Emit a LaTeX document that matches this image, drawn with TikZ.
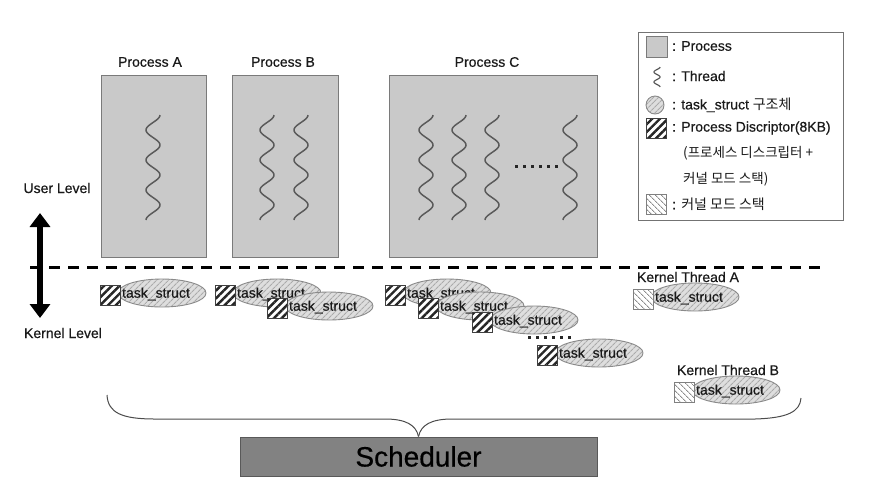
\documentclass[tikz,border=0pt]{standalone}
\usepackage{fontspec}
\setmainfont{Liberation Sans}[FakeBold=0.5]
\newfontfamily\krfont{Noto Sans CJK KR}
\usetikzlibrary{shapes.geometric,patterns.meta,arrows.meta}

\definecolor{procfill}{HTML}{C9C9C9}
\definecolor{procline}{HTML}{7A7A7A}
\definecolor{threadc}{HTML}{5A5A5A}
\definecolor{ellfill}{HTML}{DEDEDE}
\definecolor{ellhatch}{HTML}{ABABAB}
\definecolor{ellline}{HTML}{8A8A8A}
\definecolor{schedfill}{HTML}{828282}
\definecolor{txt}{HTML}{1A1A1A}

\tikzset{
  proc/.style={draw=procline, fill=procfill, line width=1.2pt, anchor=north west, inner sep=0pt},
  lbl/.style={font=\fontsize{14}{16}\selectfont, text=txt, inner sep=0pt},
  thr/.style={draw=threadc, line width=1.5pt},
  tsell/.style={ellipse, draw=ellline, line width=0.9pt, minimum width=88pt, minimum height=28pt, inner sep=0pt,
    preaction={fill=ellfill}, pattern={Lines[angle=45,distance=4pt,line width=1.1pt]}, pattern color=ellhatch},
  tstext/.style={font=\fontsize{14}{16}\selectfont, text=txt, inner sep=0pt},
  dsq/.style={draw=black!75, line width=0.8pt, minimum size=20pt, inner sep=0pt,
    preaction={fill=white}, pattern={Lines[angle=45,distance=5.5pt,line width=2.4pt]}, pattern color=black!85},
  lsq/.style={draw=black!50, line width=0.8pt, minimum size=20pt, inner sep=0pt,
    preaction={fill=white}, pattern={Lines[angle=-45,distance=4pt,line width=0.8pt]}, pattern color=black!45},
  dots/.style={line width=3pt, dash pattern=on 3pt off 5pt, draw=black!85},
  brace/.style={draw=black!70, line width=1pt},
}

\newcommand{\tsk}[4]{%
  \node[tsell] (#1e) at (#2+62,#3+8) {};
  \node[tstext] (#1t) at (#2+56,#3+9) {task\_struct};
  \node[#4] (#1s) at (#2+10,#3+10) {};
}
\newcommand{\thrd}[1]{%
  \draw[thr] plot[domain=0:105, samples=140, variable=\t] ({#1+7*cos(12*\t)},{115+\t});
}

\begin{document}
\begin{tikzpicture}[x=1pt,y=-1pt]
\useasboundingbox[fill=white] (0,0) rectangle (880,491);

% processes
\node[proc, minimum width=105pt, minimum height=182pt] (pA) at (101,75) {};
\node[proc, minimum width=106pt, minimum height=182pt] (pB) at (232,75) {};
\node[proc, minimum width=208pt, minimum height=182pt] (pC) at (389,75) {};
\node[lbl] (lA) at (150,62) {Process A};
\node[lbl] (lB) at (283,62) {Process B};
\node[lbl] (lC) at (487,62) {Process C};

% threads
\thrd{153}
\thrd{267}
\thrd{301}
\thrd{426}
\thrd{459}
\thrd{492}
\thrd{570}
\coordinate (cd1) at (515,166);
\coordinate (cd2) at (558,166);
\draw[dots] (cd1) -- (cd2);

% user / kernel level
\node[lbl] (ul) at (57,188) {User Level};
\node[lbl] (kl) at (63,333) {Kernel Level};
\coordinate (ua) at (40,213);
\coordinate (ka) at (40,318);
\draw[line width=6pt, {Triangle[length=14pt,width=20pt]}-{Triangle[length=14pt,width=20pt]}] (ua) -- (ka);

% dashed boundary
\coordinate (dl) at (30,267);
\coordinate (dr) at (822,267);
\draw[line width=3pt, dash pattern=on 11pt off 8pt] (dl) -- (dr);

% task structs
\tsk{ta}{100}{285}{dsq}
\tsk{tba}{215}{285}{dsq}
\tsk{tbb}{267}{298}{dsq}
\tsk{tca}{385}{285}{dsq}
\tsk{tcb}{418}{298}{dsq}
\tsk{tcc}{472}{312}{dsq}
\coordinate (rd1) at (528,337);
\coordinate (rd2) at (571,337);
\draw[dots] (rd1) -- (rd2);
\tsk{tcd}{537}{345}{dsq}

\node[lbl] (kta) at (688,277) {Kernel Thread A};
\tsk{tka}{633}{289}{lsq}
\node[lbl] (ktb) at (728,370) {Kernel Thread B};
\tsk{tkb}{674}{382}{lsq}

% scheduler and brace
\node[draw=black!65, fill=schedfill, line width=1pt, minimum width=357pt, minimum height=39pt, inner sep=0pt,
      font=\fontsize{28}{32}\selectfont, text=black] (sched) at (418.5,456.5) {Scheduler};
\coordinate (brl) at (107,395);
\coordinate (brr) at (801,398);
\draw[brace] (brl) .. controls (108,413) and (122,419) .. (155,419) -- (385,419)
  .. controls (406,419) and (416,425) .. (sched.north);
\draw[brace] (brr) .. controls (800,412) and (787,418) .. (755,419) -- (452,419)
  .. controls (431,419) and (421,425) .. (sched.north);

% legend
\node[draw=black!55, line width=1pt, anchor=north west, minimum width=205pt, minimum height=188pt, inner sep=0pt] (leg) at (638,32) {};
\node[draw=procline, fill=procfill, line width=1pt, minimum size=21pt, inner sep=0pt] (lgp) at (656.5,47) {};
\node[lbl, anchor=west] (lgpt) at (672,46) {: Process};
\draw[draw=threadc, line width=1.2pt] plot[domain=0:20, samples=60, variable=\t] ({657+3*cos(36*\t)},{67+\t});
\node[lbl, anchor=west] (lgtt) at (672,76) {: Thread};
\node[circle, draw=ellline, line width=0.9pt, minimum size=18pt, inner sep=0pt,
  preaction={fill=ellfill}, pattern={Lines[angle=45,distance=4pt,line width=1.1pt]}, pattern color=ellhatch] (lgc) at (655,105) {};
\node[lbl, anchor=west] (lgct) at (672,105) {: task\_struct {\krfont 구조체}};
\node[dsq] (lgd) at (656.5,128) {};
\node[lbl, anchor=west] (lgdt) at (672,128) {: Process Discriptor(8KB)};
\node[lbl, anchor=west, font=\krfont\fontsize{13.5}{16}\selectfont] (lgd2) at (683,153) {(프로세스 디스크립터 +};
\node[lbl, anchor=west, font=\krfont\fontsize{13.5}{16}\selectfont] (lgd3) at (683,179) {커널 모드 스택)};
\node[lsq] (lgl) at (656.5,204) {};
\node[lbl, anchor=west] (lglt) at (672,204) {: {\krfont 커널 모드 스택}};
\end{tikzpicture}
\end{document}
